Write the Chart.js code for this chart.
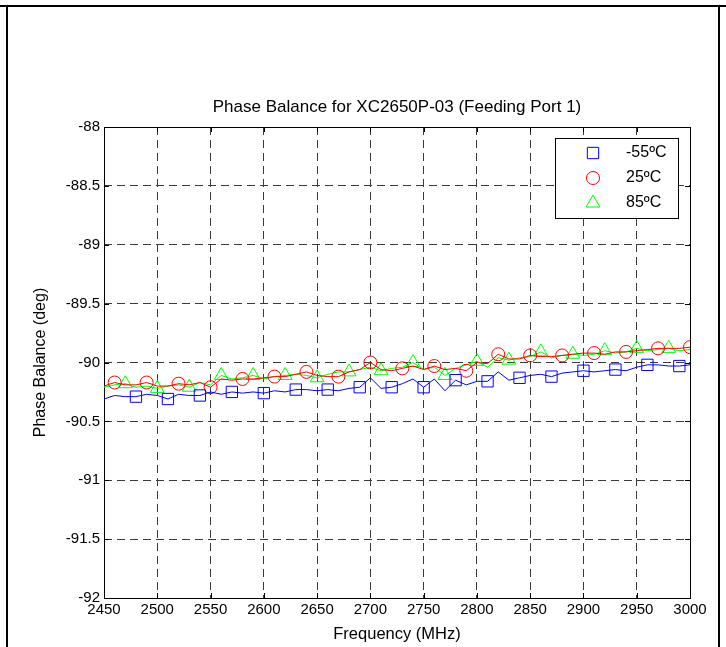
<!DOCTYPE html>
<html>
<head>
<meta charset="utf-8">
<script src="https://cdn.jsdelivr.net/npm/chart.js@4/dist/chart.umd.min.js"></script>
<style>
    html, body { margin: 0; padding: 0; background: #fff; }
    #wrap { position: relative; width: 726px; height: 647px; overflow: hidden; }
    #topLine { position: absolute; left: 0; top: 5px; width: 726px; height: 2px; background: #000; }
    #frame { position: absolute; left: 6px; top: 5px; width: 710px; height: 660px;
        border-left: 2px solid #000; border-right: 2px solid #000; }
    #myChart { position: absolute; left: 0; top: 0; }
</style>
</head>
<body>
<div id="wrap">
    <div id="topLine"></div>
    <div id="frame"></div>
    <canvas id="myChart" width="726" height="647"></canvas>
</div>
<script>
const chartTitle = "Phase Balance for XC2650P-03 (Feeding Port 1)";
const xTitle = "Frequency (MHz)";
const yTitle = "Phase Balance (deg)";
const seriesNames = ["-55ºC", "25ºC", "85ºC"];

const freqs = [
    2450, 2460, 2470, 2480, 2490, 2500, 2510, 2520, 2530, 2540,
    2550, 2560, 2570, 2580, 2590, 2600, 2610, 2620, 2630, 2640,
    2650, 2660, 2670, 2680, 2690, 2700, 2710, 2720, 2730, 2740,
    2750, 2760, 2770, 2780, 2790, 2800, 2810, 2820, 2830, 2840,
    2850, 2860, 2870, 2880, 2890, 2900, 2910, 2920, 2930, 2940,
    2950, 2960, 2970, 2980, 2990, 3000,
];

const phaseM55 = [
    -90.31, -90.28, -90.29, -90.29, -90.27, -90.28, -90.31, -90.27, -90.28, -90.28,
    -90.25, -90.27, -90.25, -90.26, -90.25, -90.26, -90.24, -90.25, -90.23, -90.23,
    -90.24, -90.23, -90.24, -90.22, -90.21, -90.13, -90.22, -90.21, -90.18, -90.14,
    -90.21, -90.14, -90.24, -90.15, -90.19, -90.16, -90.16, -90.08, -90.15, -90.13,
    -90.11, -90.10, -90.12, -90.09, -90.08, -90.07, -90.08, -90.07, -90.06, -90.07,
    -90.04, -90.02, -90.02, -90.03, -90.03, -90.02,
];

const phase25 = [
    -90.20, -90.17, -90.19, -90.19, -90.17, -90.20, -90.20, -90.18, -90.19, -90.17,
    -90.21, -90.14, -90.15, -90.14, -90.14, -90.13, -90.12, -90.12, -90.10, -90.08,
    -90.11, -90.12, -90.12, -90.08, -90.06, -90.00, -90.06, -90.07, -90.05, -90.03,
    -90.06, -90.03, -90.06, -90.05, -90.07, -90.00, -90.01, -89.93, -89.97, -89.97,
    -89.94, -89.95, -89.95, -89.94, -89.93, -89.92, -89.92, -89.93, -89.91, -89.91,
    -89.90, -89.89, -89.88, -89.88, -89.88, -89.87,
];

const phase85 = [
    -90.21, -90.19, -90.18, -90.21, -90.20, -90.22, -90.20, -90.19, -90.21, -90.17,
    -90.19, -90.11, -90.14, -90.13, -90.11, -90.14, -90.12, -90.11, -90.10, -90.11,
    -90.13, -90.10, -90.08, -90.08, -90.06, -90.04, -90.07, -90.05, -90.04, -90.00,
    -90.06, -90.04, -90.11, -90.05, -90.02, -89.99, -90.04, -89.96, -89.98, -89.96,
    -89.95, -89.91, -89.96, -89.94, -89.93, -89.94, -89.93, -89.90, -89.92, -89.91,
    -89.88, -89.90, -89.89, -89.88, -89.90, -89.89,
];

const xMin = 2450;
const xMax = 3000;
const xStep = 50;
const yMin = -92;
const yMax = -88;
const yStep = 0.5;

const FONT = "'Liberation Sans', Arial, sans-serif";

function toPoints(values) {
    return freqs.map((f, i) => ({ x: f, y: values[i] }));
}

// marker on every third sample, each series starting at its own offset
function markerRadius(offset, r) {
    return (ctx) => {
        const i = ctx.dataIndex;
        if (i === 0 && offset === 0) {
            return 0;
        }
        return i % 3 === offset ? r : 0;
    };
}

function makeSeries(label, values, color, style, offset, r) {
    return {
        label: label,
        data: toPoints(values),
        borderColor: color,
        borderWidth: 1,
        pointStyle: style,
        pointRadius: markerRadius(offset, r),
        pointHoverRadius: 0,
        pointBorderColor: color,
        pointBackgroundColor: "rgba(0,0,0,0)",
        pointBorderWidth: 1,
        legendRadius: r,
        tension: 0,
    };
}

const titlePlugin = {
    id: "titlePlugin",
    afterDraw(chart) {
        const { ctx, chartArea } = chart;
        ctx.save();
        ctx.fillStyle = "#000";
        ctx.font = `17px ${FONT}`;
        ctx.textAlign = "center";
        ctx.textBaseline = "middle";
        ctx.fillText(chartTitle, (chartArea.left + chartArea.right) / 2, chartArea.top - 20);
        ctx.restore();
    },
};

// black box round the axes, with ticks pointing inwards on all sides
const axesBox = {
    id: "axesBox",
    beforeDatasetsDraw(chart) {
        const { ctx, chartArea, scales } = chart;
        const { left, right, top, bottom } = chartArea;
        const len = 5;
        ctx.save();
        ctx.strokeStyle = "#000";
        ctx.lineWidth = 1;
        ctx.beginPath();
        scales.x.ticks.forEach((t) => {
            const px = Math.round(scales.x.getPixelForValue(t.value)) + 0.5;
            ctx.moveTo(px, bottom);
            ctx.lineTo(px, bottom - len);
            ctx.moveTo(px, top);
            ctx.lineTo(px, top + len);
        });
        scales.y.ticks.forEach((t) => {
            const py = Math.round(scales.y.getPixelForValue(t.value)) + 0.5;
            ctx.moveTo(left, py);
            ctx.lineTo(left + len, py);
            ctx.moveTo(right, py);
            ctx.lineTo(right - len, py);
        });
        ctx.stroke();
        ctx.strokeRect(Math.round(left) + 0.5, Math.round(top) + 0.5,
            Math.round(right - left), Math.round(bottom - top));
        ctx.restore();
    },
};

const boxLegend = {
    id: "boxLegend",
    afterDraw(chart) {
        const { ctx, chartArea } = chart;
        const w = 123;
        const h = 80;
        const left = Math.round(chartArea.right) - 135;
        const top = Math.round(chartArea.top) + 11;
        ctx.save();
        ctx.fillStyle = "#fff";
        ctx.fillRect(left, top, w, h);
        ctx.strokeStyle = "#000";
        ctx.lineWidth = 1;
        ctx.strokeRect(left + 0.5, top + 0.5, w, h);
        chart.data.datasets.forEach((ds, i) => {
            const y = top + 15 + i * 25;
            ctx.strokeStyle = ds.borderColor;
            ctx.fillStyle = "rgba(0,0,0,0)";
            ctx.lineWidth = 1;
            Chart.helpers.drawPoint(ctx, {
                pointStyle: ds.pointStyle,
                radius: ds.legendRadius,
                rotation: 0,
                borderWidth: 1,
            }, left + 38, y);
            ctx.fillStyle = "#000";
            ctx.font = `16px ${FONT}`;
            ctx.textAlign = "left";
            ctx.textBaseline = "middle";
            ctx.fillText(ds.label, left + 71, y);
        });
        ctx.restore();
    },
};

function main() {
    const ctx = document.getElementById("myChart");

    new Chart(ctx, {
        type: "line",
        data: {
            datasets: [
                makeSeries(seriesNames[0], phaseM55, "#0000ff", "rect", 0, 8),
                makeSeries(seriesNames[1], phase25, "#ff0000", "circle", 1, 6.5),
                makeSeries(seriesNames[2], phase85, "#00ff00", "triangle", 2, 8),
            ],
        },
        options: {
            responsive: false,
            animation: false,
            events: [],
            layout: {
                padding: { top: 127, right: 36, bottom: 0, left: 0 },
            },
            plugins: {
                legend: { display: false },
                title: { display: false },
                tooltip: { enabled: false },
            },
            scales: {
                x: {
                    type: "linear",
                    min: xMin,
                    max: xMax,
                    afterFit: (scale) => { scale.height = 49; },
                    ticks: {
                        stepSize: xStep,
                        padding: 3,
                        color: "#000",
                        font: { family: FONT, size: 15 },
                        maxRotation: 0,
                        callback: (v) => String(v),
                    },
                    grid: { color: "#3a3a3a", lineWidth: 1, drawTicks: false },
                    border: { display: false, dash: [8, 5] },
                    title: {
                        display: true,
                        text: xTitle,
                        color: "#000",
                        font: { family: FONT, size: 16.5 },
                        padding: { top: 0, bottom: 3 },
                    },
                },
                y: {
                    min: yMin,
                    max: yMax,
                    afterFit: (scale) => { scale.width = 104; },
                    ticks: {
                        stepSize: yStep,
                        padding: 4,
                        color: "#000",
                        font: { family: FONT, size: 15 },
                        callback: (v) => String(v),
                    },
                    grid: { color: "#3a3a3a", lineWidth: 1, drawTicks: false },
                    border: { display: false, dash: [8, 5] },
                    title: {
                        display: true,
                        text: yTitle,
                        color: "#000",
                        font: { family: FONT, size: 16 },
                        padding: { top: 31, bottom: 0 },
                    },
                },
            },
        },
        plugins: [titlePlugin, axesBox, boxLegend],
    });
}

main();
</script>
</body>
</html>
